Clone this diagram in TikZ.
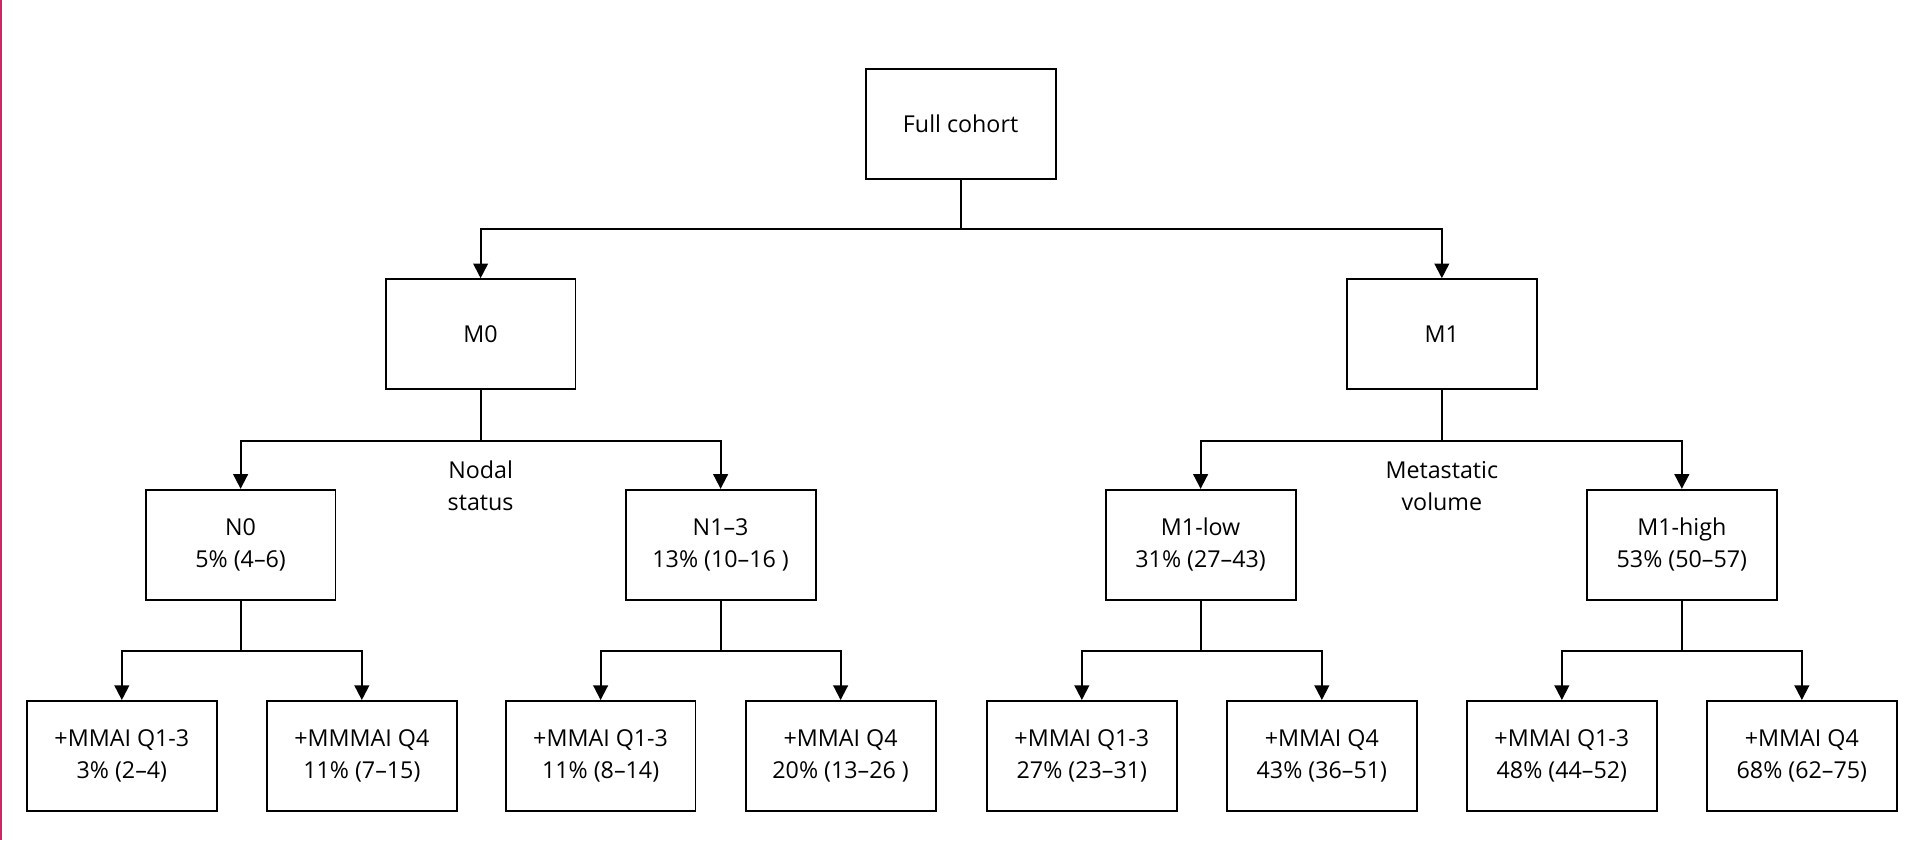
\documentclass[tikz,border=0pt]{standalone}
\usepackage{fontspec}
\setmainfont{Open Sans}
\usetikzlibrary{arrows.meta}
\definecolor{edge}{RGB}{200,40,100}
\begin{document}
\begin{tikzpicture}[x=1pt,y=-1pt,
  box/.style={draw,line width=1.6pt,minimum width=155pt,minimum height=90pt,align=center,font=\fontsize{19}{26}\selectfont,inner sep=2pt},
  lab/.style={align=center,font=\fontsize{19}{26}\selectfont},
  con/.style={line width=1.6pt,-{Triangle[length=12pt,width=12pt]}}]
\useasboundingbox (0,0) rectangle (1568,686);
\fill[edge] (0,0) rectangle (2,686);
\node[box] (full) at (784.5,101) {Full cohort};
\node[box] (m0) at (392.5,273) {M0};
\node[box] (m1) at (1177.5,273) {M1};
\node[box] (n0) at (196.5,445) {N0\\5\% (4–6)};
\node[box] (n13) at (588.5,445) {N1–3\\13\% (10–16 )};
\node[box] (ml) at (980.5,445) {M1-low\\31\% (27–43)};
\node[box] (mh) at (1373.5,445) {M1-high\\53\% (50–57)};
\node[box] (b1) at (99.5,617.5) {+MMAI Q1-3\\3\% (2–4)};
\node[box] (b2) at (295.5,617.5) {+MMMAI Q4\\11\% (7–15)};
\node[box] (b3) at (490.5,617.5) {+MMAI Q1-3\\11\% (8–14)};
\node[box] (b4) at (686.5,617.5) {+MMAI Q4\\20\% (13–26 )};
\node[box] (b5) at (883.5,617.5) {+MMAI Q1-3\\27\% (23–31)};
\node[box] (b6) at (1079.5,617.5) {+MMAI Q4\\43\% (36–51)};
\node[box] (b7) at (1275.5,617.5) {+MMAI Q1-3\\48\% (44–52)};
\node[box] (b8) at (1471.5,617.5) {+MMAI Q4\\68\% (62–75)};
\node[lab] (ns) at (392.5,397) {Nodal\\status};
\node[lab] (mv) at (1177.5,397) {Metastatic\\volume};
\foreach \p/\a/\b/\y in {full/m0/m1/187, m0/n0/n13/360, m1/ml/mh/360, n0/b1/b2/532, n13/b3/b4/532, ml/b5/b6/532, mh/b7/b8/532}{
  \draw[line width=1.6pt] (\p.south) -- (\p.south |- 0,\y);
  \draw[con] (\p.south |- 0,\y) -| (\a.north);
  \draw[con] (\p.south |- 0,\y) -| (\b.north);
}
\end{tikzpicture}
\end{document}
